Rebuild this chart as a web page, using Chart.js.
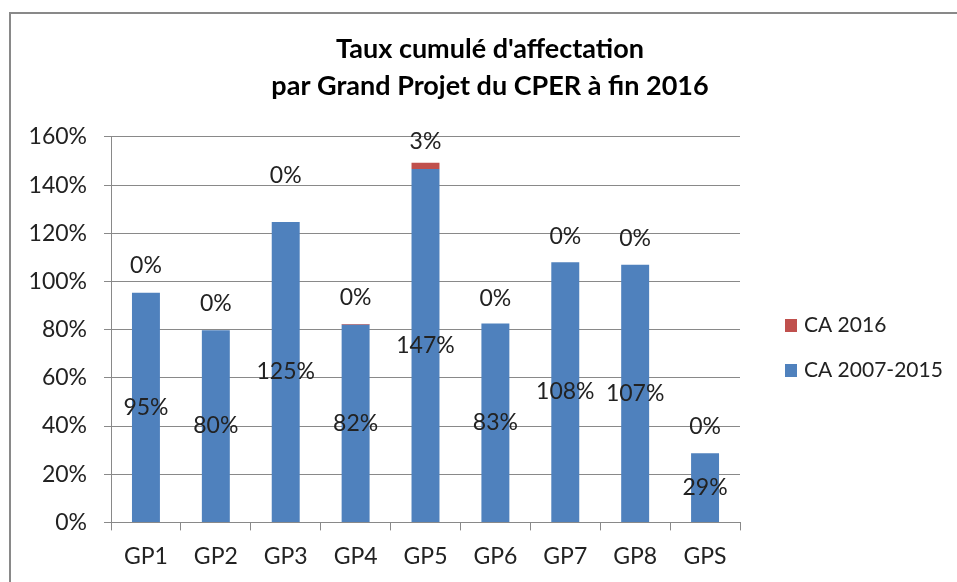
<!DOCTYPE html>
<html>
<head>
<meta charset="utf-8">
<script src="https://cdn.jsdelivr.net/npm/chart.js@4"></script>
<style>
  body { margin: 0; background: #fff; }
  #wrap { position: relative; width: 957px; height: 582px; overflow: hidden; }
  #frame { position: absolute; left: 9px; top: 12px; width: 1000px; height: 700px; border: 2px solid #898989; box-sizing: border-box; }
  canvas { position: absolute; left: 0; top: 0; }
</style>
</head>
<body>
<div id="wrap">
  <div id="frame"></div>
  <canvas id="hist" width="957" height="582"></canvas>
</div>
<script>
'use strict';
// valeurs (en %)
const categories = ['GP1', 'GP2', 'GP3', 'GP4', 'GP5', 'GP6', 'GP7', 'GP8', 'GPS'];
const ca20072015 = [95.3, 79.8, 124.7, 82.0, 146.7, 82.6, 108.0, 107.0, 28.7];
const ca2016 = [0, 0, 0, 0.4, 2.6, 0, 0, 0, 0];
const yTicks = [0, 20, 40, 60, 80, 100, 120, 140, 160];
const titleLines = ["Taux cumulé d'affectation", 'par Grand Projet du CPER à fin 2016'];

const FONT = 'Lato, Calibri, sans-serif';

// etiquettes de valeurs + legende dessinees a la main
const labelsPlugin = {
    id: 'barLabels',
    afterDatasetsDraw(chart, args, opts) {
        const ctx = chart.ctx;
        ctx.save();
        ctx.font = '23px ' + FONT;
        ctx.fillStyle = '#222';
        ctx.textAlign = 'center';
        ctx.textBaseline = 'middle';
        const blue = chart.getDatasetMeta(0).data;
        const red = chart.getDatasetMeta(1).data;
        blue.forEach((bar, i) => {
            const v = chart.data.datasets[0].data[i];
            ctx.fillText(Math.round(v) + '%', bar.x, (bar.y + bar.base) / 2);
        });
        red.forEach((bar, i) => {
            const v = chart.data.datasets[1].data[i];
            ctx.fillText(Math.round(v) + '%', bar.x, bar.y - opts.lift[i]);
        });
        ctx.restore();
    },
    afterDraw(chart, args, opts) {
        const ctx = chart.ctx;
        ctx.save();
        ctx.font = '21px ' + FONT;
        ctx.textBaseline = 'middle';
        ctx.textAlign = 'left';
        const ds = chart.data.datasets.slice().reverse();
        ds.forEach((d, i) => {
            const y = opts.legendY + i * 45;
            ctx.fillStyle = d.backgroundColor;
            ctx.fillRect(opts.legendX, y - 6, 12, 13);
            ctx.fillStyle = '#222';
            ctx.fillText(d.label, opts.legendX + 19, y);
        });
        ctx.restore();
    }
};

let ctx = document.getElementById('hist');
let barGraph = new Chart(ctx, {
    type: 'bar',
    data: {
        labels: categories,
        datasets: [
            { label: 'CA 2007-2015', data: ca20072015, backgroundColor: '#4F81BD', barPercentage: 0.4, categoryPercentage: 1.0 },
            { label: 'CA 2016', data: ca2016, backgroundColor: '#C0504D', barPercentage: 0.4, categoryPercentage: 1.0 }
        ]
    },
    plugins: [labelsPlugin],
    options: {
        responsive: false,
        animation: false,
        layout: { padding: { left: 23, right: 0, top: 20, bottom: 0 } },
        plugins: {
            legend: { display: false },
            tooltip: { enabled: false },
            title: {
                display: true,
                text: titleLines,
                color: '#000',
                font: { family: FONT, size: 27, weight: 'bold', lineHeight: 1.37 },
                padding: { top: 11, bottom: 32 }
            },
            barLabels: {
                lift: [27, 27, 46, 26, 21, 25, 26, 26, 27],
                legendX: 785,
                legendY: 325
            }
        },
        scales: {
            x: {
                stacked: true,
                grid: { drawOnChartArea: false, color: '#898989', tickLength: 8, offset: true },
                border: { color: '#898989' },
                ticks: { color: '#222', font: { family: FONT, size: 23 }, padding: 12 }
            },
            y: {
                stacked: true,
                min: 0,
                max: 160,
                afterBuildTicks: s => { s.ticks = yTicks.map(v => ({ value: v })); },
                afterFit: s => { s.width = 88; },
                grid: { color: '#898989', tickLength: 7 },
                border: { color: '#898989' },
                ticks: { color: '#222', font: { family: FONT, size: 23 }, padding: 17, callback: v => v + '%' }
            },
            yR: {
                position: 'right',
                display: true,
                grid: { display: false },
                border: { display: false },
                ticks: { display: false },
                afterFit: s => { s.width = 217; }
            }
        }
    }
});
</script>
</body>
</html>
